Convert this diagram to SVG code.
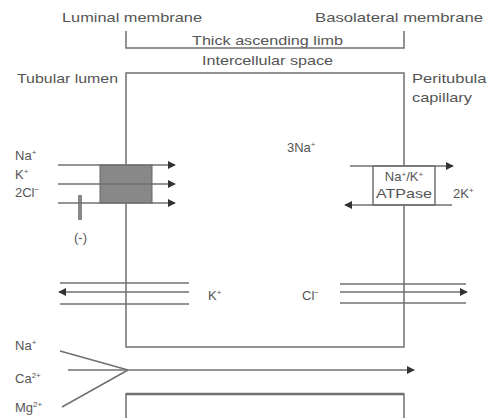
<svg xmlns="http://www.w3.org/2000/svg" width="487" height="418" viewBox="0 0 487 418">
<style>
text{font-family:"Liberation Sans",Arial,sans-serif;font-size:13px;fill:#555}
.ln{stroke:#707070;stroke-width:1.5;fill:none}
.sup{font-size:8px}
</style>
<defs>
<marker id="ah" viewBox="0 0 10 10" refX="9" refY="5" markerWidth="8" markerHeight="8" markerUnits="userSpaceOnUse" orient="auto">
<path d="M0,0 L10,5 L0,10 z" fill="#333"/>
</marker>
</defs>
<rect width="487" height="418" fill="#fff"/>
<g id="labels">
<text x="62" y="22" textLength="140" lengthAdjust="spacingAndGlyphs">Luminal membrane</text>
<text x="315" y="22" textLength="168" lengthAdjust="spacingAndGlyphs">Basolateral membrane</text>
<text x="192" y="45" textLength="151" lengthAdjust="spacingAndGlyphs">Thick ascending limb</text>
<text x="202" y="65" textLength="131" lengthAdjust="spacingAndGlyphs">Intercellular space</text>
<text x="17" y="83" textLength="101" lengthAdjust="spacingAndGlyphs">Tubular lumen</text>
<text x="412" y="83" textLength="80" lengthAdjust="spacingAndGlyphs">Peritubular</text>
<text x="412" y="102" textLength="60" lengthAdjust="spacingAndGlyphs">capillary</text>
</g>
<g id="structure">
<path class="ln" d="M126,31 V48 H404 V31"/>
<path class="ln" d="M126,73 H404 V347 H126 Z"/>
<path class="ln" d="M126,418 V394 H404 V418"/>
<path d="M126,394 H404" stroke="#707070" stroke-width="2.5"/>
</g>
<g id="nkcc2">
<rect x="100" y="165" width="52" height="38" fill="#888" stroke="#666" stroke-width="1"/>
<text x="15" y="160">Na<tspan class="sup" dy="-5">+</tspan></text>
<text x="15" y="179">K<tspan class="sup" dy="-5">+</tspan></text>
<text x="15" y="197">2Cl<tspan class="sup" dy="-5">−</tspan></text>
<rect x="78" y="195" width="4" height="25" fill="#888"/>
<text x="74" y="242" font-size="11">(-)</text>
</g>
<g id="nak-atpase">
<rect x="373" y="166" width="62" height="39" fill="#fff" stroke="#707070" stroke-width="1.5"/>
<text x="404" y="181" text-anchor="middle" font-size="12">Na<tspan class="sup" dy="-4">+</tspan><tspan dy="4">/K</tspan><tspan class="sup" dy="-4">+</tspan></text>
<text x="404" y="198" text-anchor="middle" textLength="56" lengthAdjust="spacingAndGlyphs">ATPase</text>
<text x="287" y="152">3Na<tspan class="sup" dy="-5">+</tspan></text>
<text x="453" y="198">2K<tspan class="sup" dy="-5">+</tspan></text>
</g>
<g id="k-channel">
<text x="208" y="300">K<tspan class="sup" dy="-5">+</tspan></text>
</g>
<g id="cl-channel">
<text x="302" y="300">Cl<tspan class="sup" dy="-5">−</tspan></text>
</g>
<g id="paracellular">
<text x="15" y="350">Na<tspan class="sup" dy="-5">+</tspan></text>
<text x="15" y="383">Ca<tspan class="sup" dy="-5">2+</tspan></text>
<text x="15" y="412">Mg<tspan class="sup" dy="-5">2+</tspan></text>
</g>
<g id="connectors">
<path class="ln" d="M58,165 H175" marker-end="url(#ah)"/>
<path class="ln" d="M58,184 H175" marker-end="url(#ah)"/>
<path class="ln" d="M58,203 H175" marker-end="url(#ah)"/>
<path class="ln" d="M350,166 H453" marker-end="url(#ah)"/>
<path class="ln" d="M452,205 H345" marker-end="url(#ah)"/>
<path class="ln" d="M60,283 H189"/>
<path class="ln" d="M189,292 H59" marker-end="url(#ah)"/>
<path class="ln" d="M60,304 H189"/>
<path class="ln" d="M340,284 H466"/>
<path class="ln" d="M340,292 H467" marker-end="url(#ah)"/>
<path class="ln" d="M340,303 H466"/>
<path class="ln" d="M60,351 L128,370 M62,407 L128,370"/>
<path class="ln" d="M68,370 H414" marker-end="url(#ah)"/>
</g>
</svg>
